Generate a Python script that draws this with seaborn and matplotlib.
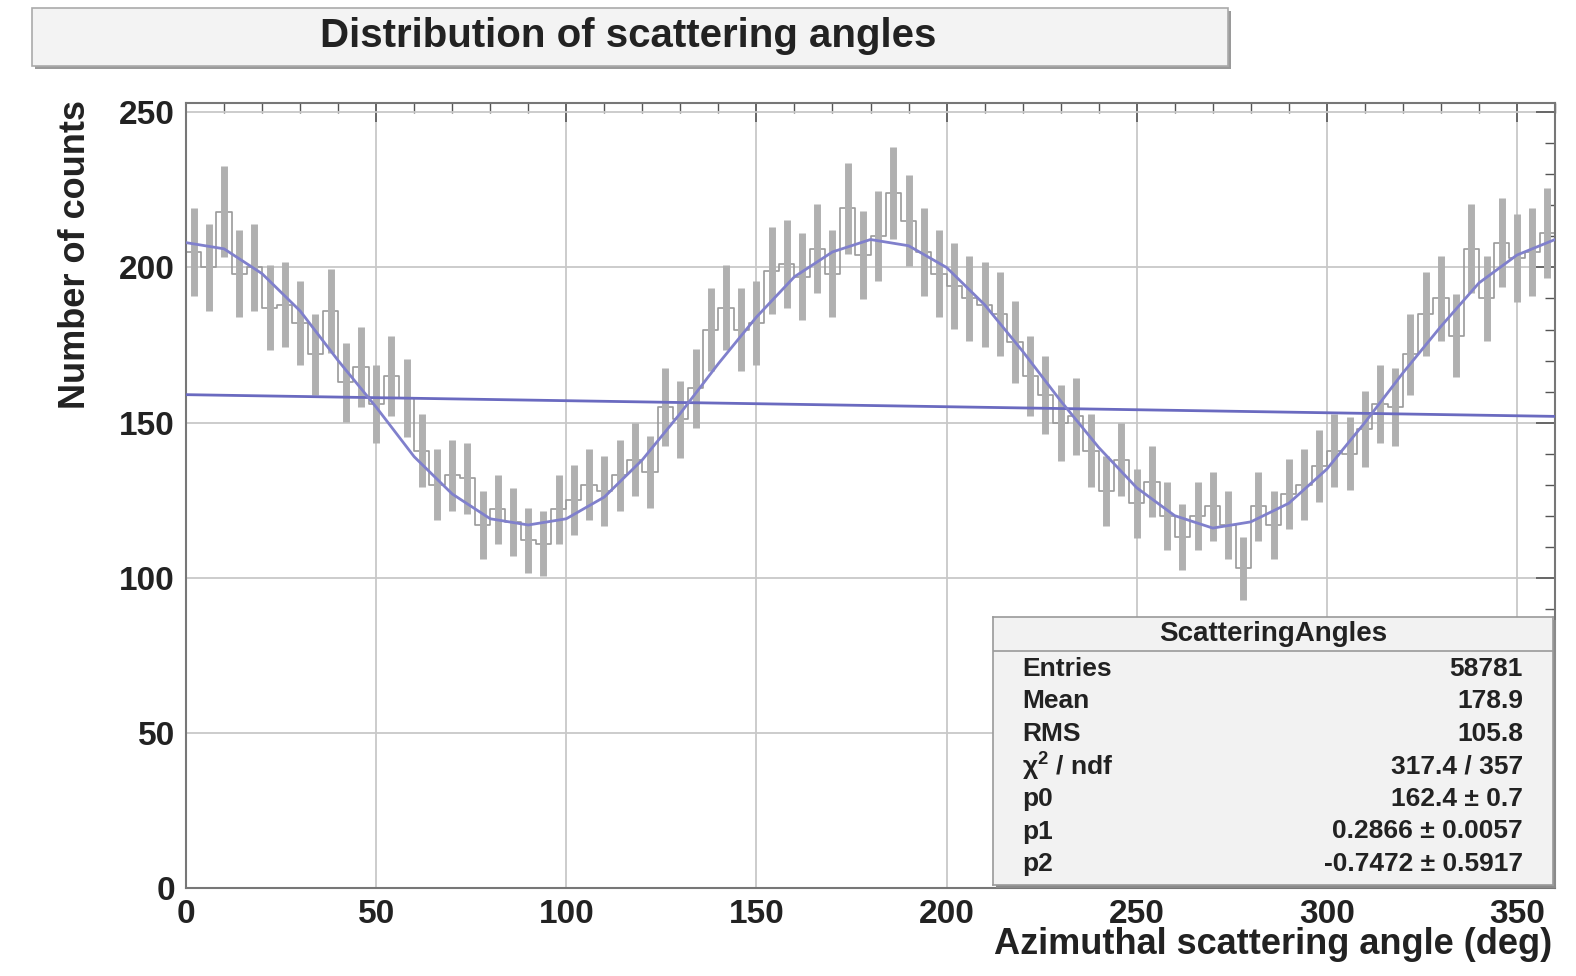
import numpy as np
import pandas as pd
import seaborn as sns
import matplotlib.pyplot as plt
from matplotlib.patches import Rectangle
from matplotlib.ticker import MultipleLocator

# histogram: 4 degree bins, counts
bin_centers = list(range(2, 360, 4))
counts = [205, 200, 218, 198, 200, 187, 188, 182, 172, 186,
          163, 168, 156, 165, 158, 141, 130, 133, 132, 117,
          122, 118, 112, 111, 122, 125, 130, 128, 133, 138,
          134, 155, 151, 161, 180, 187, 180, 182, 199, 201,
          197, 206, 198, 219, 204, 210, 224, 215, 205, 198,
          194, 190, 188, 185, 176, 165, 159, 150, 152, 141,
          128, 138, 124, 131, 120, 113, 120, 123, 117, 103,
          123, 117, 127, 130, 136, 141, 140, 148, 156, 155,
          172, 185, 190, 178, 206, 190, 208, 203, 205, 211]

# fitted curve, read at every 10 degrees
fit_x = list(range(0, 361, 10))
fit_y = [208, 206, 198, 186, 170, 155, 139, 127, 119, 117,
         119, 126, 138, 153, 169, 184, 197, 205, 209, 207,
         200, 188, 173, 157, 142, 129, 120, 116, 118, 124,
         135, 150, 166, 181, 195, 204, 209]

# flat line across the plot
flat_x = [0, 360]
flat_y = [159, 152]

stat_names = ["Entries", "Mean", "RMS", "\u03c7$^2$ / ndf", "p0", "p1", "p2"]
stat_values = ["58781", "178.9", "105.8", "317.4 / 357",
               "162.4 \u00b1 0.7", "0.2866 \u00b1 0.0057", "-0.7472 \u00b1 0.5917"]

sns.set_theme(style="white")
plt.rcParams['font.family'] = ['Liberation Sans', 'DejaVu Sans']
plt.rcParams['font.weight'] = 'bold'
plt.rcParams['mathtext.fontset'] = 'custom'
plt.rcParams['mathtext.rm'] = 'Liberation Sans:bold'
plt.rcParams['mathtext.default'] = 'rm'

hist_df = pd.DataFrame({"angle": bin_centers, "counts": counts})
fit_df = pd.DataFrame({"angle": fit_x, "value": fit_y})
flat_df = pd.DataFrame({"angle": flat_x, "value": flat_y})

fig = plt.figure(figsize=(15.76, 9.76), dpi=100)
ax = fig.add_axes([186 / 1576, 1 - 888 / 976, (1555 - 186) / 1576, (888 - 103) / 976])

sns.histplot(data=hist_df, x="angle", weights="counts", binwidth=4, binrange=(0, 360),
             element="step", fill=False, color="#9a9a9a", linewidth=1.2, ax=ax)
errs = np.sqrt(hist_df["counts"])
ax.errorbar(hist_df["angle"], hist_df["counts"], yerr=errs, fmt="none",
            ecolor="#b0b0b0", elinewidth=5, capsize=0, zorder=3)
sns.lineplot(data=flat_df, x="angle", y="value", color="#6a6ac0", linewidth=2, ax=ax, zorder=4)
sns.lineplot(data=fit_df, x="angle", y="value", color="#8080cc", linewidth=2, ax=ax, zorder=5)

ax.set_xlim(0, 360)
ax.set_ylim(0, 253)
ax.xaxis.set_major_locator(MultipleLocator(50))
ax.xaxis.set_minor_locator(MultipleLocator(10))
ax.yaxis.set_major_locator(MultipleLocator(50))
ax.yaxis.set_minor_locator(MultipleLocator(10))
ax.tick_params(which="major", direction="in", length=14, width=1.2, color="#555555",
               top=True, right=True, labelsize=24, pad=8, labelcolor="#222222")
ax.tick_params(which="minor", direction="in", length=7, width=1, color="#555555",
               top=True, right=True)
ax.grid(True, which="major", color="#c8c8c8", linewidth=1.3)
for s in ax.spines.values():
    s.set_color("#777777")
    s.set_linewidth(1.5)
ax.set_xlabel("")
ax.set_ylabel("")
fig.text(1552 / 1576, 1 - 945 / 976, "Azimuthal scattering angle (deg)", ha="right", va="center",
         fontsize=26, color="#222222")
fig.text(76 / 1576, 1 - 100 / 976, "Number of counts", ha="center", va="top", rotation=90,
         fontsize=26, color="#222222")

# title box
fig.patches.append(Rectangle((35 / 1576, 1 - 69 / 976), 1196 / 1576, 58 / 976,
                             transform=fig.transFigure, facecolor="#9a9a9a", edgecolor="none"))
fig.patches.append(Rectangle((32 / 1576, 1 - 66 / 976), 1196 / 1576, 58 / 976,
                             transform=fig.transFigure, facecolor="#f3f3f3", edgecolor="#aaaaaa",
                             linewidth=1.2))
fig.text(628 / 1576, 1 - 36 / 976, "Distribution of scattering angles", ha="center", va="center",
         fontsize=29, color="#222222")

# stats box
fig.patches.append(Rectangle((996 / 1576, 1 - 888 / 976), 560 / 1576, 268 / 976,
                             transform=fig.transFigure, facecolor="#8a8a8a", edgecolor="none",
                             zorder=10))
sax = fig.add_axes([993 / 1576, 1 - 885 / 976, 560 / 1576, 268 / 976], zorder=11)
sax.set_facecolor("#f2f2f2")
sax.set_xticks([])
sax.set_yticks([])
for s in sax.spines.values():
    s.set_color("#9a9a9a")
    s.set_linewidth(1.2)
sax.set_xlim(0, 560)
sax.set_ylim(268, 0)
sax.axhline(34, color="#9a9a9a", linewidth=1.2)
sax.text(280, 17, "ScatteringAngles", ha="center", va="center", fontsize=20, color="#222222")
for i, (n, v) in enumerate(zip(stat_names, stat_values)):
    yy = 52 + i * 32.5
    sax.text(29, yy, n, ha="left", va="center", fontsize=19, color="#222222")
    sax.text(530, yy, v, ha="right", va="center", fontsize=19, color="#222222")

fig.savefig("out.png", dpi=100)
